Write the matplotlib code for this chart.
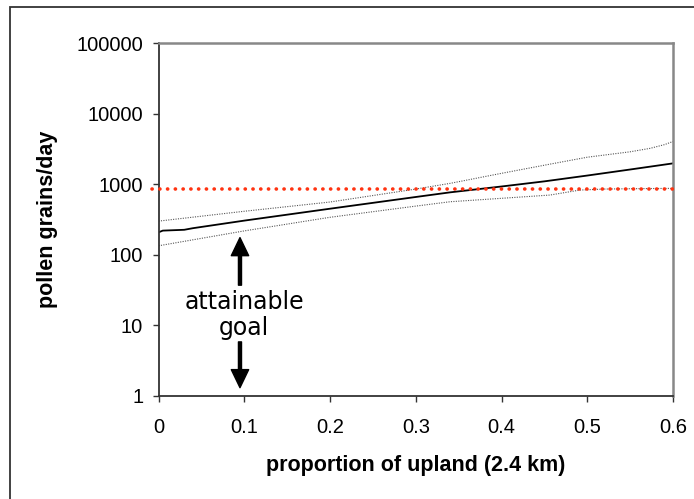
import numpy as np
import matplotlib
matplotlib.use('Agg')
import matplotlib.pyplot as plt
from matplotlib.patches import Rectangle

# data
x_mid = [0, 0.005, 0.03, 0.04, 0.1, 0.2, 0.3, 0.34, 0.4, 0.45, 0.5, 0.55, 0.6]
y_mid = [208, 220, 226, 238, 305, 450, 660, 768, 930, 1100, 1330, 1620, 1980]

x_up = [0, 0.1, 0.2, 0.3, 0.34, 0.4, 0.4565, 0.5, 0.55, 0.573, 0.59, 0.6]
y_up = [300, 414, 560, 855, 1030, 1430, 1930, 2420, 2890, 3230, 3650, 4050]

x_lo = [0, 0.1, 0.2, 0.3, 0.34, 0.4, 0.4565, 0.4915, 0.52, 0.55, 0.6]
y_lo = [134, 218, 340, 490, 565, 632, 703, 828, 855, 865, 875]

goal_x = [-0.008, 0.6]
goal_y = [850, 850]

yticks = [1, 10, 100, 1000, 10000, 100000]
ytick_labels = ['1', '10', '100', '1000', '10000', '100000']
xticks = [0, 0.1, 0.2, 0.3, 0.4, 0.5, 0.6]
xtick_labels = ['0', '0.1', '0.2', '0.3', '0.4', '0.5', '0.6']

plt.rcParams['font.family'] = ['Liberation Sans', 'DejaVu Sans']

fig = plt.figure(figsize=(6.94, 4.99), dpi=100)
ax = fig.add_axes([0.2284, 0.2070, 0.7414, 0.7062])

ax.plot(x_up, y_up, color='#555555', lw=0.8, ls=(0, (1, 1.2)))
ax.plot(x_lo, y_lo, color='#555555', lw=0.8, ls=(0, (1, 1.2)))
ax.plot(x_mid, y_mid, color='black', lw=1.3)
ax.plot(goal_x, goal_y, color='#ff3311', lw=2.6, ls=(0, (0.05, 2.1)),
        dash_capstyle='round', clip_on=False, zorder=5)

ax.set_yscale('log')
ax.set_ylim(1, 100000)
ax.set_xlim(0, 0.6)
ax.yaxis.set_major_locator(matplotlib.ticker.FixedLocator(yticks))
ax.yaxis.set_minor_locator(matplotlib.ticker.NullLocator())
ax.set_yticklabels(ytick_labels)
ax.set_xticks(xticks)
ax.set_xticklabels(xtick_labels)
ax.tick_params(axis='y', direction='out', length=4, width=1, color='#333333',
               labelsize=14.5, pad=7)
ax.tick_params(axis='x', direction='out', length=4, width=1, color='#333333',
               labelsize=14.5, pad=12)

for s in ['left', 'bottom']:
    ax.spines[s].set_color('#333333')
    ax.spines[s].set_linewidth(1.3)
for s in ['top', 'right']:
    ax.spines[s].set_color('#888888')
    ax.spines[s].set_linewidth(1.8)

ax.set_xlabel('proportion of upland (2.4 km)', fontsize=15.5, fontweight='bold')
ax.set_ylabel('pollen grains/day', fontsize=15.5, fontweight='bold')
ax.xaxis.set_label_coords(0.5, -0.197)
ax.xaxis.label.set_va('center')
ax.yaxis.set_label_coords(-0.2167, 0.5)
ax.yaxis.label.set_va('center')

# attainable goal arrows
arr = dict(width=2.2, headwidth=12.5, headlength=13, color='black', shrink=0)
ax.annotate('', xy=(0.095, 175), xytext=(0.095, 37), arrowprops=arr)
ax.annotate('', xy=(0.095, 1.3), xytext=(0.095, 5.8), arrowprops=arr)
ax.text(0.1, 14, 'attainable\ngoal', ha='center', va='center', fontsize=17,
        family='DejaVu Sans', linespacing=1.15)

# outer frame (only left and top edges fall inside the image)
fig.patches.append(Rectangle((9.5 / 694, -0.1), 1.2, 1.1 - 7 / 499,
                             transform=fig.transFigure, fill=False,
                             edgecolor='#333333', lw=1.3))

fig.savefig('out.png', dpi=100)
